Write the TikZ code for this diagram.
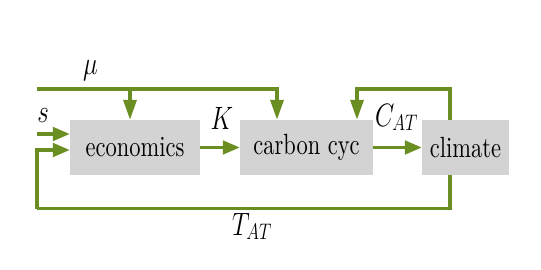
\documentclass[tikz,border=0pt]{standalone}
\usepackage{graphicx}
\usepackage{fontspec}
\setmainfont{lmroman10-regular.otf}[ItalicFont=lmroman10-italic.otf,BoldFont=lmroman10-bold.otf]
\usetikzlibrary{arrows.meta}
\definecolor{lineg}{RGB}{107,142,35}
\definecolor{boxg}{RGB}{211,211,211}
\newcommand{\vst}[1]{\scalebox{1}[1.3]{#1}}
\begin{document}
\begin{tikzpicture}[x=1pt,y=-1pt,
  blk/.style={fill=boxg,draw=none,inner sep=0pt,minimum height=55pt,font=\fontsize{22.5}{27}\selectfont},
  conn/.style={draw=lineg,line width=3.4pt,-{Triangle[length=17pt,width=13.5pt]}},
  vconn/.style={draw=lineg,line width=3.4pt,-{Triangle[length=20pt,width=13pt]}},
  wire/.style={draw=lineg,line width=3.4pt},
  lbl/.style={inner sep=0pt,font=\fontsize{24}{29}\selectfont}]
\useasboundingbox (0,0) rectangle (541,270);
\node[blk,minimum width=130pt] (econ) at (135,147.5) {\vst{economics}};
\node[blk,minimum width=133pt] (carb) at (306.5,147.5) {\vst{carbon cyc}};
\node[blk,minimum width=87pt] (clim) at (465.5,147.5) {\vst{climate}};
\coordinate (muL) at (37,89);
\coordinate (sL) at (37,134);
\coordinate (tL) at (37,208.5);
\coordinate (cR) at (450,89);
\coordinate (cL) at (357,89);
\draw[conn] (sL) -- (sL -| econ.west);
\draw[conn] (tL) -- (37,150) -- (econ.west |- 0,150);
\draw[wire] (clim.south -| 450,0) -- (450,208.5) -- (tL);
\draw[wire] (muL) -- (278.7,89);
\draw[vconn] (130,89) -- (econ.north -| 130,0);
\draw[vconn] (277,87.3) -- (carb.north -| 277,0);
\draw[vconn] (clim.north -| 450,0) -- (cR) -- (cL) -- (carb.north -| cL);
\draw[conn] (econ.east) -- (carb.west);
\draw[conn] (carb.east) -- (clim.west);
\node[lbl] (mu) at (90.5,71) {\vst{$\mu$}};
\node[lbl] (s) at (43,116) {\vst{$s$}};
\node[lbl] (K) at (222,118) {\vst{$K$}};
\node[lbl] (cat) at (396.5,117.5) {\vst{$C_{AT}$}};
\node[lbl] (tat) at (252,226.5) {\vst{$T_{AT}$}};
\end{tikzpicture}
\end{document}
